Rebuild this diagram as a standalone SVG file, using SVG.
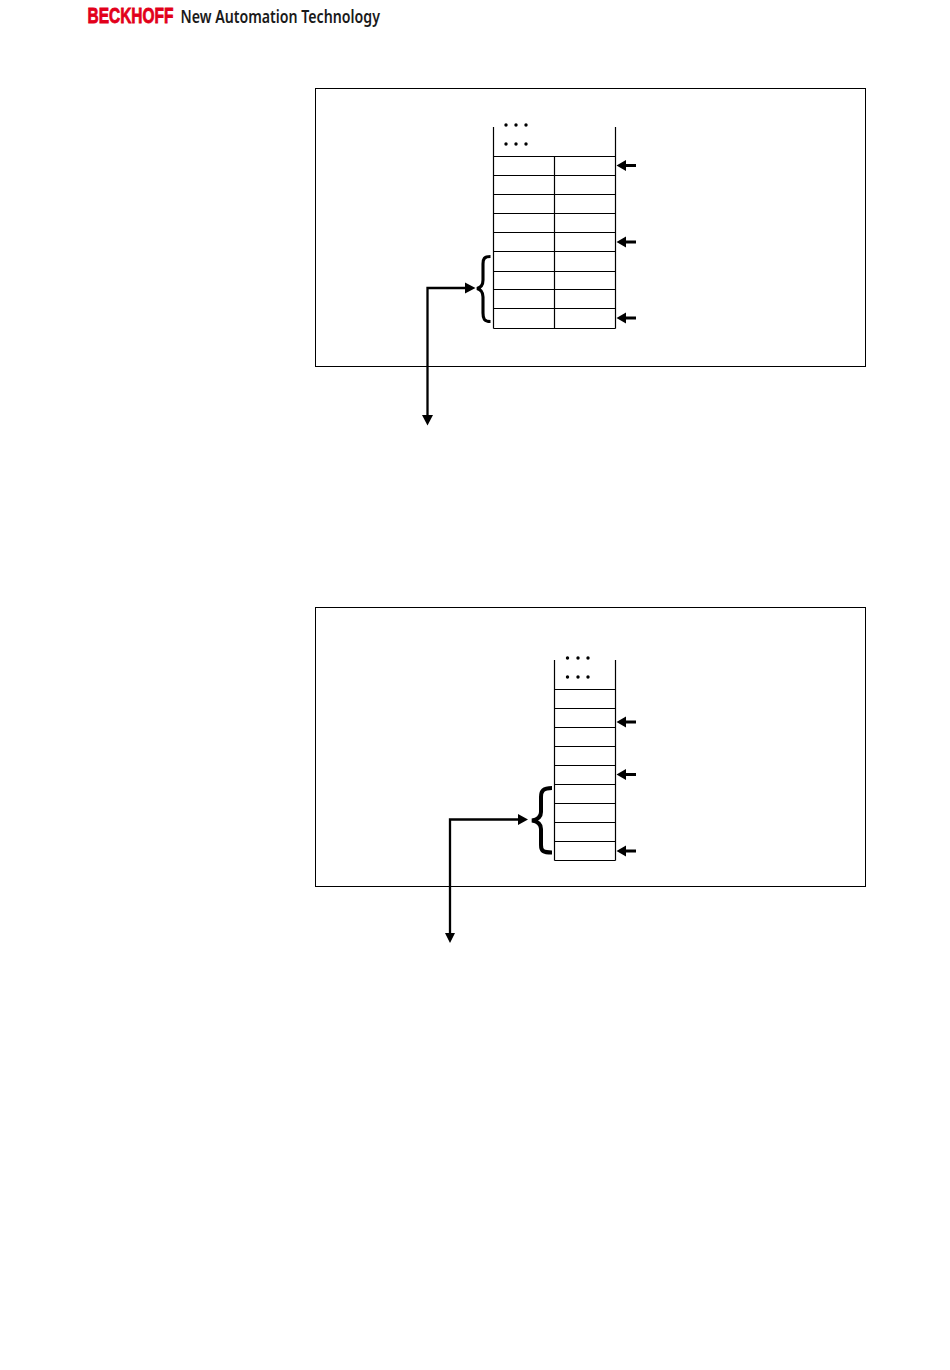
<svg xmlns="http://www.w3.org/2000/svg" width="950" height="1370" viewBox="0 0 950 1370">
<style>
.box{fill:#fff;stroke:#000;stroke-width:1}
.ln{fill:none;stroke:#000;stroke-width:1.2}
.conn{fill:none;stroke:#000;stroke-width:2.3}
.stub{fill:none;stroke:#000;stroke-width:2.8}
.brace{fill:none;stroke:#000;stroke-linecap:butt}
.head{fill:#000;stroke:none}
.dot{fill:#000}
</style>
<rect width="950" height="1370" fill="#fff"/>
<g id="logo">
<text transform="translate(87.500 22.500) scale(0.72 1.05)" font-family="'Liberation Sans',Arial,sans-serif" font-weight="700" font-size="21.500" fill="#e2001a" stroke="#e2001a" stroke-width="0.8">BECKHOFF</text>
<text transform="translate(180.500 23) scale(0.81 1)" font-family="'Noto Sans','Liberation Sans',sans-serif" font-weight="600" font-size="17.500" fill="#1a1a1a">New Automation Technology</text>
</g>
<g id="frame-1"><rect class="box" x="315.5" y="88.5" width="550" height="278"/></g>
<g id="table-1">
<path class="ln" d="M493.5 127V328.5M615.5 127V328.5M554.5 156.5V328.5M493.5 156.5H615.5M493.5 175.5H615.5M493.5 194.5H615.5M493.5 213.5H615.5M493.5 232.5H615.5M493.5 251.5H615.5M493.5 271.5H615.5M493.5 289.5H615.5M493.5 308.5H615.5M493.5 328.5H615.5"/>
<g class="dot"><circle cx="506" cy="125" r="1.7"/><circle cx="516" cy="125" r="1.7"/><circle cx="526" cy="125" r="1.7"/><circle cx="506" cy="144" r="1.7"/><circle cx="516" cy="144" r="1.7"/><circle cx="526" cy="144" r="1.7"/></g>
</g>
<g id="brace-1"><path class="brace" stroke-width="3.1" d="M490.5 256.500C484 256.500 483 259 483 264V280C483 285 481 287.500 477 288.500C481 289.500 483 292 483 297V313C483 318.500 484 321.500 490.500 321.500"/></g>
<g id="frame-2"><rect class="box" x="315.5" y="607.5" width="550" height="279"/></g>
<g id="table-2">
<path class="ln" d="M554.5 660V860.5M615.5 660V860.5M554.5 689.5H615.5M554.5 708.5H615.5M554.5 727.5H615.5M554.5 746.5H615.5M554.5 765.5H615.5M554.5 784.5H615.5M554.5 803.5H615.5M554.5 822.5H615.5M554.5 841.5H615.5M554.5 860.5H615.5"/>
<g class="dot"><circle cx="567.5" cy="658" r="1.7"/><circle cx="578" cy="658" r="1.7"/><circle cx="588" cy="658" r="1.7"/><circle cx="567.5" cy="677" r="1.7"/><circle cx="578" cy="677" r="1.7"/><circle cx="588" cy="677" r="1.7"/></g>
</g>
<g id="brace-2"><path class="brace" stroke-width="4" d="M552 788C543 788 541 791 541 797V812C541 817 538 819.500 532 820.500C538 821.500 541 824 541 829V845C541 851 543 852.500 552 852.500"/></g>
<g id="connectors">
<path class="stub" d="M636 165.500H624M636 242H624M636 318H624M636 722H624M636 774.500H624M636 851H624"/>
<path class="head" d="M616.500 165.500L626 160V171ZM616.500 242L626 236.500V247.500ZM616.500 318L626 312.500V323.500ZM616.500 722L626 716.500V727.500ZM616.500 774.500L626 769V780ZM616.500 851L626 845.500V856.500Z"/>
<path class="conn" d="M470 288H427.500V416"/>
<path class="head" d="M475.500 288L465 282.500V293.500ZM427.500 425.500L422 415H433Z"/>
<path class="conn" d="M520 819.500H450V934"/>
<path class="head" d="M528 819.500L518 814V825ZM450 943L445 933H455Z"/>
</g>
</svg>
